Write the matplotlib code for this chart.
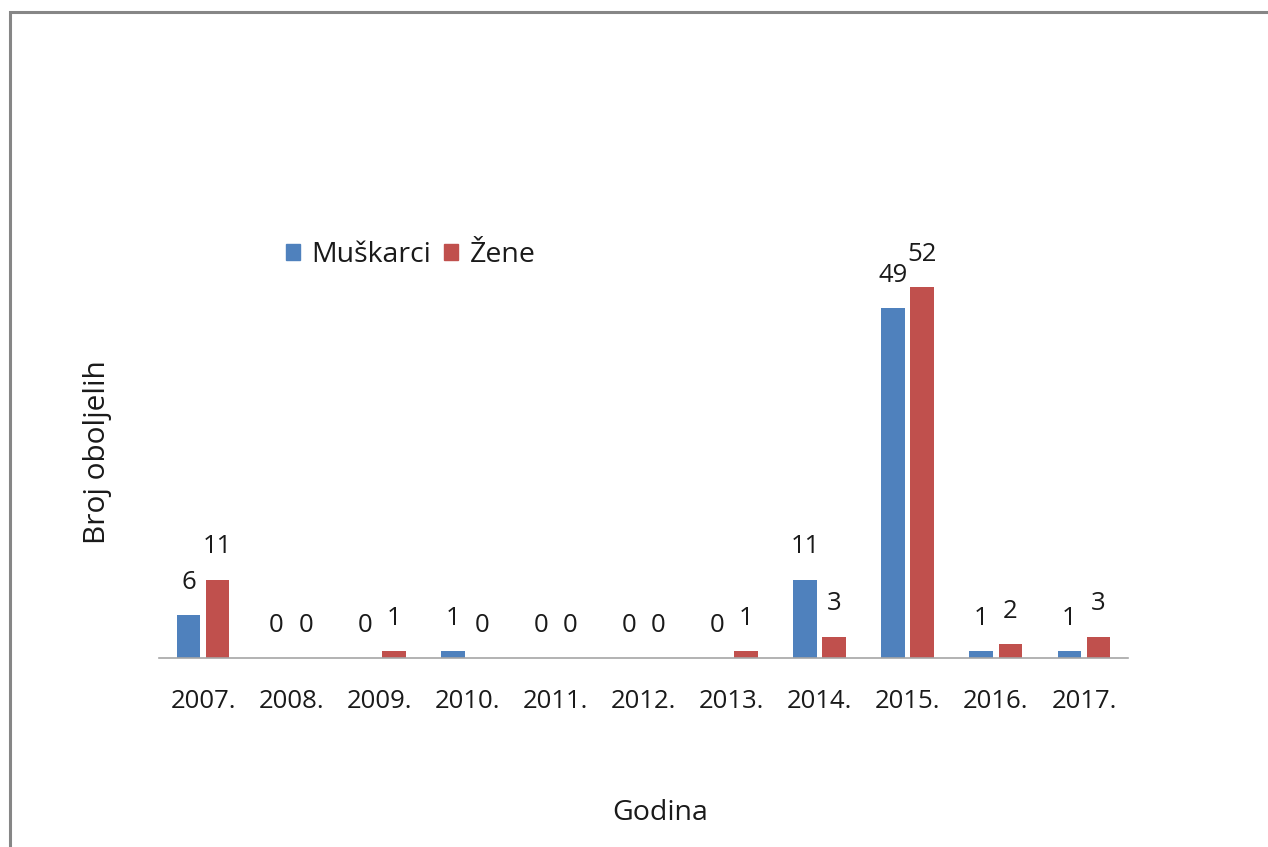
import matplotlib
matplotlib.use("Agg")
import matplotlib.pyplot as plt
import numpy as np
from matplotlib.patches import Patch, Rectangle

years = ["2007.", "2008.", "2009.", "2010.", "2011.", "2012.", "2013.", "2014.", "2015.", "2016.", "2017."]
muskarci = [6, 0, 0, 1, 0, 0, 0, 11, 49, 1, 1]
zene = [11, 0, 1, 0, 0, 0, 1, 3, 52, 2, 3]

plt.rcParams['font.family'] = ['Open Sans', 'DejaVu Sans']
FS = 18.5
FS_T = 20.5
blue = "#4f81bd"
red = "#c0504d"

fig = plt.figure(figsize=(12.68, 8.47), dpi=100)
W, H = 1268, 847
ax = fig.add_axes([159 / W, 1 - 658 / H, 969 / W, 428 / H])

x = np.arange(len(years))
bw = 0.27
off = 0.165
b1 = ax.bar(x - off, muskarci, bw, color=blue, label="Muškarci")
b2 = ax.bar(x + off, zene, bw, color=red, label="Žene")

for bars, vals in ((b1, muskarci), (b2, zene)):
    for b, v in zip(bars, vals):
        ax.annotate(str(v), (b.get_x() + b.get_width() / 2, v),
                    xytext=(0, 23.5), textcoords="offset points",
                    ha="center", va="center", fontsize=FS, color="#1a1a1a")

ax.set_xlim(-0.5, 10.5)
ax.set_ylim(0, 60)
ax.set_xticks(x)
ax.set_xticklabels(years, fontsize=FS, color="#1a1a1a")
ax.tick_params(axis="x", length=0, pad=22)
ax.set_yticks([])
for s in ("top", "right", "left"):
    ax.spines[s].set_visible(False)
ax.spines["bottom"].set_color("#a6a6a6")
ax.spines["bottom"].set_linewidth(1.2)

handles = [Patch(color=blue, label="Muškarci"), Patch(color=red, label="Žene")]
leg = ax.legend(handles=handles, loc="center left", bbox_to_anchor=(286 / W, 1 - 255 / H),
                bbox_transform=fig.transFigure, ncol=2, frameon=False, fontsize=FS_T,
                handlelength=0.5, handleheight=0.5, handletextpad=0.4,
                columnspacing=0.45, borderaxespad=0, borderpad=0)
for t in leg.get_texts():
    t.set_color("#1a1a1a")

fig.text(97 / W, 1 - 452 / H, "Broj oboljelih", rotation=90, ha="center", va="center",
         fontsize=21.5, color="#1a1a1a")
fig.text(660 / W, 1 - 813 / H, "Godina", ha="center", va="center",
         fontsize=FS_T, color="#1a1a1a")

# chart border (top and left visible)
fig.add_artist(Rectangle((9.5 / W, -0.1), 1.2, 1.1 - 12.5 / H, transform=fig.transFigure,
                         fill=False, edgecolor="#868686", linewidth=2.2))

fig.savefig("out.png", dpi=100)
